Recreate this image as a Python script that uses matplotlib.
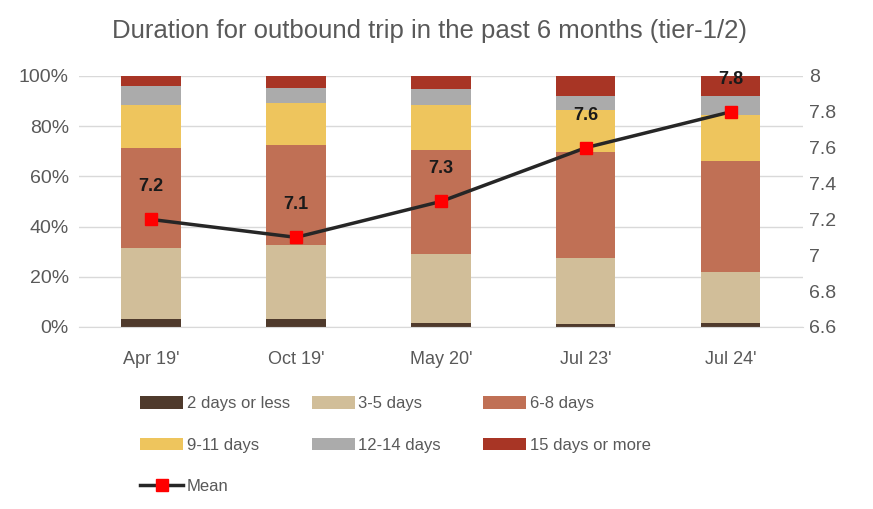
import matplotlib
matplotlib.use('Agg')
import matplotlib.pyplot as plt
from matplotlib.lines import Line2D
from matplotlib.patches import Patch
import numpy as np

# data
waves = ["Apr 19'", "Oct 19'", "May 20'", "Jul 23'", "Jul 24'"]
segments = ['2 days or less', '3-5 days', '6-8 days', '9-11 days', '12-14 days', '15 days or more']
d_2_or_less = [3.0, 3.0, 1.5, 1.0, 1.5]
d_3_5 = [28.5, 29.7, 27.5, 26.6, 20.3]
d_6_8 = [39.7, 39.8, 41.5, 42.0, 44.3]
d_9_11 = [17.3, 16.6, 17.9, 16.9, 18.4]
d_12_14 = [7.6, 6.0, 6.4, 5.7, 7.7]
d_15_plus = [3.9, 4.9, 5.2, 7.8, 7.8]
mean_days = [7.2, 7.1, 7.3, 7.6, 7.8]

colors = ['#4F3A2C', '#D1BE99', '#C07055', '#EEC55D', '#ABABAB', '#A83525']
grey = '#595959'

plt.rcParams['font.family'] = ['Liberation Sans', 'DejaVu Sans']

fig = plt.figure(figsize=(8.73, 5.09), dpi=100)
ax = fig.add_axes([0.09, 0.3576, 0.83, 0.4931])

x = np.arange(len(waves))
series = [d_2_or_less, d_3_5, d_6_8, d_9_11, d_12_14, d_15_plus]
bottom = np.zeros(len(waves))
for vals, c in zip(series, colors):
    ax.bar(x, vals, 0.41, bottom=bottom, color=c, zorder=2)
    bottom += np.array(vals)

ax.set_xlim(-0.5, len(waves) - 0.5)
ax.set_ylim(0, 100)
ax.set_yticks(range(0, 101, 20))
ax.set_yticklabels([f'{v}%' for v in range(0, 101, 20)])
ax.set_xticks(x)
ax.set_xticklabels(waves)
ax.grid(axis='y', color='#D9D9D9', linewidth=1, zorder=0)
for s in ['top', 'right', 'left']:
    ax.spines[s].set_visible(False)
ax.spines['bottom'].set_color('#D9D9D9')
ax.tick_params(axis='y', length=0, colors=grey, labelsize=14, pad=7)
ax.tick_params(axis='x', length=0, colors=grey, labelsize=13, pad=17)

ax2 = ax.twinx()
ax2.plot(x, mean_days, color='#262626', linewidth=2.5, marker='s', markersize=8,
         markerfacecolor='#FF0000', markeredgecolor='#FF0000', zorder=5)
ax2.set_ylim(6.6, 8.0)
ax2.set_yticks(np.arange(6.6, 8.01, 0.2))
ax2.set_yticklabels(['6.6', '6.8', '7', '7.2', '7.4', '7.6', '7.8', '8'])
for s in ['top', 'right', 'left', 'bottom']:
    ax2.spines[s].set_visible(False)
ax2.tick_params(axis='y', length=0, colors=grey, labelsize=14, pad=4)
for xi, m in zip(x, mean_days):
    ax2.annotate(f'{m:.1f}', (xi, m), xytext=(0, 23.5), textcoords='offset points',
                 ha='center', va='center', fontsize=13, fontweight='bold', color='#1A1A1A')

fig.text(0.492, 0.94, 'Duration for outbound trip in the past 6 months (tier-1/2)',
         ha='center', va='center', fontsize=18.5, color=grey)

patches = [Patch(facecolor=c, label=s) for c, s in zip(colors, segments)]
mean_handle = Line2D([0], [0], color='#262626', linewidth=2.5, marker='s', markersize=8,
                     markerfacecolor='#FF0000', markeredgecolor='#FF0000', label='Mean')
# one legend per column so the columns sit where they do in the reference
legend_cols = [[patches[0], patches[3], mean_handle],
               [patches[1], patches[4]],
               [patches[2], patches[5]]]
col_x = [0.1432, 0.340, 0.536]
for hs, cx in zip(legend_cols, col_x):
    leg = fig.legend(handles=hs, loc='upper left', bbox_to_anchor=(cx, 0.251),
                     frameon=False, fontsize=12, handlelength=2.6, handleheight=0.78,
                     handletextpad=0.2, labelspacing=1.58)
    for t in leg.get_texts():
        t.set_color(grey)

plt.savefig('out.png', dpi=100)
